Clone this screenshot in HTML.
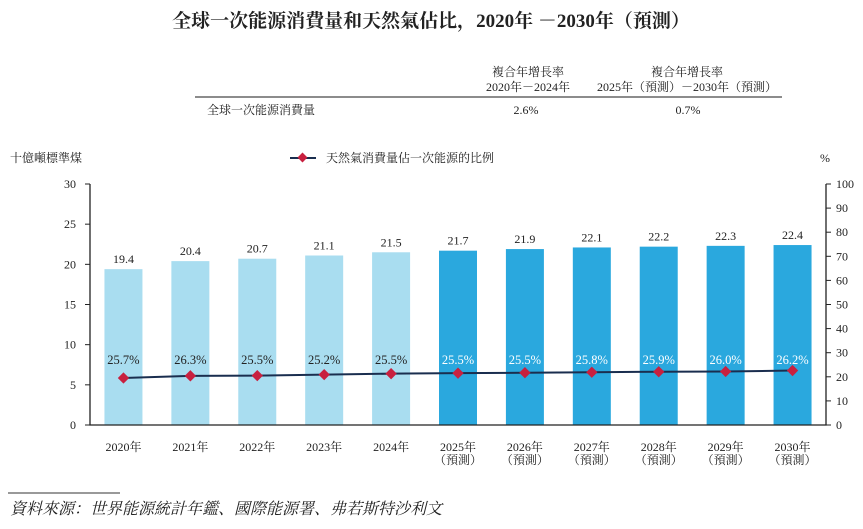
<!DOCTYPE html>
<html><head><meta charset="utf-8">
<style>
body{margin:0;background:#fff;width:863px;height:524px;overflow:hidden;font-family:"Liberation Serif","Noto Serif CJK SC",serif;}
svg text{font-family:"Liberation Serif","Noto Serif CJK SC",serif;fill:#222;}
</style></head><body>
<svg id="c" width="863" height="524" viewBox="0 0 863 524">
<text x="431" y="27" text-anchor="middle" font-size="19" font-weight="bold">全球一次能源消費量和天然氣佔比，2020年 －2030年（預測）</text>
<text x="528" y="76" text-anchor="middle" font-size="12">複合年增長率</text>
<text x="528" y="91" text-anchor="middle" font-size="12">2020年－2024年</text>
<text x="687" y="76" text-anchor="middle" font-size="12">複合年增長率</text>
<text x="687" y="91" text-anchor="middle" font-size="12">2025年（預測）－2030年（預測）</text>
<line x1="195" y1="97" x2="782" y2="97" stroke="#666" stroke-width="1.5"/>
<text x="207" y="114" font-size="12">全球一次能源消費量</text>
<text x="526" y="114" text-anchor="middle" font-size="12">2.6%</text>
<text x="688" y="114" text-anchor="middle" font-size="12">0.7%</text>
<text x="10" y="162" font-size="12">十億噸標準煤</text>
<text x="820" y="162" font-size="12">%</text>
<g>
<line x1="290" y1="158" x2="316" y2="158" stroke="#1a2e4f" stroke-width="2"/>
<rect x="299" y="154" width="7" height="7" fill="#c8203f" transform="rotate(45 302.5 157.5)"/>
<text x="326" y="162" font-size="12">天然氣消費量佔一次能源的比例</text>
</g>
<text x="10" y="514" font-size="16" font-style="italic">資料來源：世界能源統計年鑑、國際能源署、弗若斯特沙利文</text>
<line x1="8" y1="493" x2="120" y2="493" stroke="#333" stroke-width="1"/>
</svg>
<script>
const categories=["2020年","2021年","2022年","2023年","2024年","2025年","2026年","2027年","2028年","2029年","2030年"];
const forecast=[false,false,false,false,false,true,true,true,true,true,true];
const consumption=[19.4,20.4,20.7,21.1,21.5,21.7,21.9,22.1,22.2,22.3,22.4];
const shareLabels=["25.7%","26.3%","25.5%","25.2%","25.5%","25.5%","25.5%","25.8%","25.9%","26.0%","26.2%"];
const sharePlotted=[19.5,20.4,20.5,20.9,21.3,21.5,21.7,21.9,22.1,22.2,22.6];
const leftTicks=[0,5,10,15,20,25,30];
const rightTicks=[0,10,20,30,40,50,60,70,80,90,100];
const svg=document.getElementById('c');const NS="http://www.w3.org/2000/svg";
const X0=90,X1=826,Y0=425,Y1=184;
const yL=v=>Y0-(v/30)*(Y0-Y1);
const yR=v=>Y0-(v/100)*(Y0-Y1);
const step=(X1-X0)/categories.length;
const xC=i=>X0+step*(i+0.5);
function mk(t,a,txt){const e=document.createElementNS(NS,t);for(const k in a)e.setAttribute(k,a[k]);if(txt!==undefined)e.textContent=txt;svg.appendChild(e);return e;}
categories.forEach((c,i)=>{
 const b=mk('rect',{x:xC(i)-19,y:yL(consumption[i]),width:38,height:Y0-yL(consumption[i]),fill:forecast[i]?'#2aa8de':'#a9ddf0'});
 
 
 const v=mk('text',{x:xC(i),y:yL(consumption[i])-6,'text-anchor':'middle','font-size':12},consumption[i].toFixed(1));
 
 
 const l=mk('text',{x:xC(i),y:451,'text-anchor':'middle','font-size':12},c);
 
 
 if(forecast[i]){const f=mk('text',{x:xC(i),y:464,'text-anchor':'middle','font-size':12},'（預測）');
 
 }
 const s=mk('text',{x:xC(i),y:364,'text-anchor':'middle','font-size':12.5,style:'fill:'+(forecast[i]?'#fff':'#222')},shareLabels[i]);
 
 
});
const axes=mk('path',{d:`M${X0},${Y1}V${Y0}H${X1}V${Y1}`,fill:'none',stroke:'#222','stroke-width':1.3});


leftTicks.forEach(t=>{const l=mk('line',{x1:X0-5,x2:X0,y1:yL(t),y2:yL(t),stroke:'#222'});
 
 
 const tx=mk('text',{x:X0-14,y:yL(t)+4,'text-anchor':'end','font-size':12},t);
 
 });
rightTicks.forEach(t=>{const l=mk('line',{x1:X1,x2:X1+5,y1:yR(t),y2:yR(t),stroke:'#222'});
 
 
 const tx=mk('text',{x:X1+10,y:yR(t)+4,'font-size':12},t);
 
 });
const pl=mk('polyline',{points:sharePlotted.map((v,i)=>xC(i)+','+yR(v)).join(' '),fill:'none',stroke:'#1a2e4f','stroke-width':2});


sharePlotted.forEach((v,i)=>{const r=mk('rect',{x:xC(i)-4,y:yR(v)-4,width:8,height:8,fill:'#c8203f',transform:`rotate(45 ${xC(i)} ${yR(v)})`});
 
 });
</script>
</body></html>
